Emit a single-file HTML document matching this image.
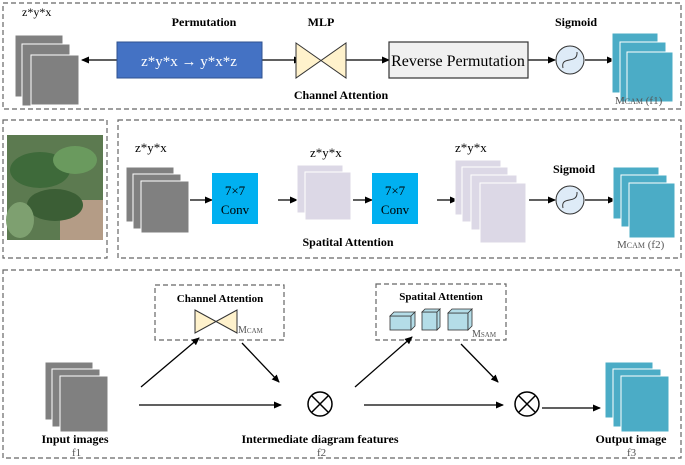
<!DOCTYPE html><html><head><meta charset="utf-8"><style>body{margin:0;background:#fff}svg{display:block}text{font-family:"Liberation Serif",serif}</style></head><body>
<svg width="685" height="465" viewBox="0 0 685 465" xmlns="http://www.w3.org/2000/svg">
<defs><marker id="a" markerWidth="8" markerHeight="8" refX="7" refY="4" orient="auto" markerUnits="userSpaceOnUse"><path d="M0,0.5 L8,4 L0,7.5z" fill="#000"/></marker></defs>
<g fill="none" stroke="#666" stroke-width="1.2" stroke-dasharray="5,3">
<rect x="3" y="3" width="678" height="106"/>
<rect x="3" y="120" width="104" height="138"/>
<rect x="118" y="120" width="563" height="138"/>
<rect x="3" y="270" width="678" height="188"/>
<rect x="155" y="285" width="129" height="55"/>
<rect x="376" y="284" width="130" height="56"/>
</g>
<g stroke="#000" stroke-width="1.3" fill="none" marker-end="url(#a)">
<line x1="117" y1="60" x2="82" y2="60"/><line x1="262" y1="60" x2="301" y2="60"/><line x1="346" y1="60" x2="389" y2="60"/><line x1="528" y1="60" x2="555" y2="60"/><line x1="585" y1="60" x2="614" y2="60"/>
<line x1="190" y1="200" x2="212" y2="200"/><line x1="278" y1="200" x2="297" y2="200"/><line x1="353" y1="200" x2="372" y2="200"/><line x1="437" y1="200" x2="457" y2="200"/><line x1="529" y1="200" x2="555" y2="200"/><line x1="585" y1="200" x2="615" y2="200"/>
<line x1="141" y1="387" x2="199" y2="338"/><line x1="242" y1="343" x2="279" y2="382"/><line x1="139" y1="405" x2="281" y2="405"/>
<line x1="355" y1="387" x2="412" y2="337"/><line x1="461" y1="344" x2="498" y2="382"/><line x1="364" y1="405" x2="503" y2="405"/><line x1="542" y1="408" x2="600" y2="408"/>
</g>
<text x="22" y="16" font-size="12" font-family="Liberation Sans">z*y*x</text>
<g fill="#808080" stroke="#fff" stroke-width="1"><rect x="15" y="35" width="48" height="62"/><rect x="22" y="44" width="48" height="62"/><rect x="31" y="55" width="48" height="50"/></g>
<rect x="117" y="42" width="145" height="36" fill="#4472c4" stroke="#2f528f"/>
<text x="189" y="66" font-size="15" fill="#fff" text-anchor="middle" font-family="Liberation Sans">z*y*x → y*x*z</text>
<text x="204" y="26" font-size="12" font-weight="bold" text-anchor="middle">Permutation</text>
<text x="321" y="26" font-size="12" font-weight="bold" text-anchor="middle">MLP</text>
<path d="M296,43 L346,78 L346,43 L296,78z" fill="#fff2cc" stroke="#333"/>
<rect x="389" y="42" width="139" height="36" fill="#f0f0f0" stroke="#333" stroke-width="1.2"/>
<text x="458" y="66" font-size="16" text-anchor="middle">Reverse Permutation</text>
<text x="576" y="26" font-size="12" font-weight="bold" text-anchor="middle">Sigmoid</text>
<circle cx="570" cy="60" r="14" fill="#deebf7" stroke="#333"/><path d="M563,68 C560,55 578,65 577,52" fill="none" stroke="#333"/>
<g fill="#4bacc6" stroke="#fff"><rect x="612" y="33" width="46" height="60"/><rect x="620" y="42" width="46" height="60"/><rect x="627" y="52" width="46" height="50"/></g>
<text x="341" y="99" font-size="12" font-weight="bold" text-anchor="middle">Channel Attention</text>
<text x="615" y="104" font-size="11" fill="#555">M<tspan font-size="8">CAM</tspan> (f1)</text>
<rect x="7" y="135" width="96" height="105" fill="#5c7a50"/>
<rect x="60" y="200" width="43" height="40" fill="#b49c86"/>
<ellipse cx="40" cy="170" rx="30" ry="18" fill="#3e6a3a"/><ellipse cx="75" cy="160" rx="22" ry="14" fill="#6a9a5e"/><ellipse cx="55" cy="205" rx="28" ry="16" fill="#3b5e35"/><ellipse cx="20" cy="220" rx="14" ry="18" fill="#7ea070"/>
<text x="135" y="152" font-size="13" font-family="Liberation Sans">z*y*x</text>
<g fill="#808080" stroke="#fff"><rect x="126" y="167" width="48" height="55"/><rect x="133" y="174" width="48" height="55"/><rect x="141" y="181" width="48" height="52"/></g>
<rect x="212" y="173" width="46" height="51" fill="#00b0f0"/><text x="235" y="195" font-size="13" text-anchor="middle">7×7</text><text x="235" y="214" font-size="13" text-anchor="middle">Conv</text>
<text x="310" y="157" font-size="13" font-family="Liberation Sans">z*y*x</text>
<g fill="#dcd8e6" stroke="#fff"><rect x="297" y="165" width="46" height="48"/><rect x="305" y="172" width="46" height="48"/></g>
<rect x="372" y="173" width="46" height="51" fill="#00b0f0"/><text x="395" y="195" font-size="13" text-anchor="middle">7×7</text><text x="395" y="214" font-size="13" text-anchor="middle">Conv</text>
<text x="455" y="152" font-size="13" font-family="Liberation Sans">z*y*x</text>
<g fill="#dcd8e6" stroke="#fff"><rect x="455" y="160" width="46" height="55"/><rect x="462" y="167" width="46" height="55"/><rect x="471" y="175" width="46" height="55"/><rect x="480" y="183" width="46" height="60"/></g>
<text x="574" y="173" font-size="12" font-weight="bold" text-anchor="middle">Sigmoid</text>
<circle cx="570" cy="200" r="14" fill="#deebf7" stroke="#333"/><path d="M563,208 C560,195 578,205 577,192" fill="none" stroke="#333"/>
<g fill="#4bacc6" stroke="#fff"><rect x="613" y="167" width="46" height="52"/><rect x="621" y="175" width="46" height="52"/><rect x="629" y="183" width="46" height="55"/></g>
<text x="348" y="246" font-size="12" font-weight="bold" text-anchor="middle">Spatital Attention</text>
<text x="617" y="248" font-size="11" fill="#555">M<tspan font-size="8">CAM</tspan> (f2)</text>
<text x="220" y="302" font-size="11" font-weight="bold" text-anchor="middle">Channel Attention</text>
<path d="M195,310 L237,333 L237,310 L195,333z" fill="#fff2cc" stroke="#333"/>
<text x="238" y="333" font-size="10" fill="#555">M<tspan font-size="7">CAM</tspan></text>
<text x="441" y="300" font-size="11" font-weight="bold" text-anchor="middle">Spatital Attention</text>
<g fill="#b4dde8" stroke="#333" stroke-width="0.8">
<rect x="390" y="316" width="21" height="14"/><path d="M390,316 l4,-4 h21 l-4,4z M411,316 l4,-4 v14 l-4,4z"/>
<rect x="422" y="312" width="15" height="18"/><path d="M422,312 l3,-3 h15 l-3,3z M437,312 l3,-3 v18 l-3,3z"/>
<rect x="448" y="313" width="20" height="17"/><path d="M448,313 l4,-4 h20 l-4,4z M468,313 l4,-4 v17 l-4,4z"/>
</g>
<text x="472" y="337" font-size="10" fill="#555">M<tspan font-size="7">SAM</tspan></text>
<g fill="#808080" stroke="#fff"><rect x="45" y="362" width="48" height="58"/><rect x="52" y="369" width="48" height="58"/><rect x="60" y="376" width="48" height="56"/></g>
<g fill="none" stroke="#000" stroke-width="1.5"><circle cx="320" cy="404" r="12"/><path d="M312,396 l16,16 M328,396 l-16,16"/><circle cx="527" cy="404" r="12"/><path d="M519,396 l16,16 M535,396 l-16,16"/></g>
<g fill="#4bacc6" stroke="#fff"><rect x="605" y="362" width="48" height="56"/><rect x="613" y="369" width="48" height="58"/><rect x="621" y="376" width="48" height="56"/></g>
<text x="75" y="443" font-size="12" font-weight="bold" text-anchor="middle">Input images</text>
<text x="72" y="456" font-size="11" fill="#555">f1</text>
<text x="320" y="443" font-size="12" font-weight="bold" text-anchor="middle">Intermediate diagram features</text>
<text x="317" y="456" font-size="11" fill="#555">f2</text>
<text x="631" y="443" font-size="12" font-weight="bold" text-anchor="middle">Output image</text>
<text x="627" y="456" font-size="11" fill="#555">f3</text>
</svg></body></html>
